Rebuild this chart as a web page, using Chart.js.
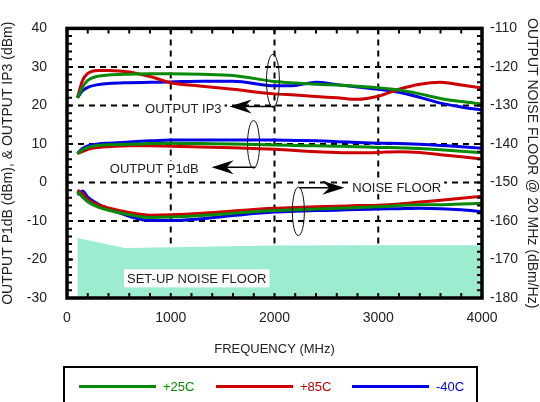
<!DOCTYPE html>
<html lang="en">
  <head>
    <meta charset="UTF-8" />
    <title>Output IP3, P1dB and noise floor vs frequency</title>
    <style type="text/css">
      body {
        margin: 0;
        background-color: #ffffff;
        font-family: "Liberation Sans", Arial, sans-serif;
      }

      .wrap {
        position: relative;
        width: 540px;
        height: 402px;
      }

      .legend {
        position: absolute;
        left: 63px;
        top: 366px;
        width: 415px;
        height: 50px;
        border: 2px solid #000;
        box-sizing: border-box;
      }

      .item {
        position: absolute;
        top: 11px;
        display: flex;
        align-items: center;
        font-size: 13px;
      }

      .swatch {
        width: 77px;
        height: 3px;
        margin-right: 7px;
      }
    </style>
  </head>
  <body>
    <div class="wrap">
      <canvas id="chart" width="540" height="402"></canvas>
      <div class="legend" id="legend"></div>
    </div>

    <script src="https://cdn.jsdelivr.net/npm/chart.js@4.4.1/dist/chart.umd.min.js"></script>

    <script type="text/javascript">
      // frequency (MHz) shared by all measured curves
      const freqMHz = [100, 150, 200, 300, 400, 600, 800, 1000, 1300, 1600, 2000, 2200, 2400, 2600, 2800, 3000, 3200, 3400, 3600, 3800, 4000];

      // output IP3 (dBm)
      const ip3_25 = [22, 24.8, 26.5, 27.6, 27.9, 28.1, 28.2, 28.2, 28.1, 27.8, 26.2, 25.8, 25.5, 25.3, 25.0, 24.6, 24.0, 23.0, 21.8, 21.0, 20.4];
      const ip3_85 = [22, 26.5, 28.3, 29.1, 29.1, 28.7, 27.5, 25.9, 25.0, 24.2, 23.0, 22.7, 22.3, 22.0, 21.6, 22.4, 24.2, 25.5, 26.0, 25.3, 24.5];
      const ip3_m40 = [22, 23.8, 24.7, 25.4, 25.7, 25.9, 26.0, 26.1, 26.3, 26.3, 25.1, 25.2, 26.0, 25.4, 24.8, 24.2, 23.4, 22.1, 20.6, 19.6, 18.8];

      // output P1dB (dBm)
      const p1db_25 = [7.5, 8.5, 9.1, 9.6, 9.8, 9.9, 10.1, 10.2, 10.1, 10.0, 9.7, 9.6, 9.5, 9.4, 9.3, 9.1, 9.0, 8.8, 8.5, 8.1, 7.7];
      const p1db_85 = [7.5, 8.0, 8.6, 9.1, 9.3, 9.5, 9.5, 9.4, 9.2, 9.0, 8.6, 8.3, 8.0, 7.8, 7.7, 7.8, 8.0, 7.8, 7.2, 6.7, 6.1];
      const p1db_m40 = [7.5, 8.8, 9.5, 10.0, 10.2, 10.5, 10.8, 11.0, 11.0, 11.0, 11.0, 10.9, 10.8, 10.6, 10.4, 10.2, 10.1, 9.9, 9.6, 9.3, 8.9];

      // output noise floor @ 20 MHz (dBm/Hz), right axis
      const nf_25 = [-152.4, -153.8, -155.0, -156.4, -157.2, -158.4, -159.1, -159.0, -158.6, -158.0, -157.3, -157.1, -156.9, -156.7, -156.5, -156.3, -156.0, -155.8, -155.8, -155.6, -155.4];
      const nf_85 = [-152.0, -153.0, -154.5, -155.8, -156.6, -157.8, -158.5, -158.4, -158.0, -157.4, -156.7, -156.5, -156.3, -156.2, -156.0, -155.9, -155.6, -155.1, -154.6, -154.1, -153.6];
      const nf_m40 = [-153.2, -152.2, -153.8, -155.6, -156.8, -158.8, -159.9, -159.9, -159.4, -158.6, -157.7, -157.5, -157.3, -157.2, -157.0, -156.9, -156.8, -156.7, -156.8, -157.1, -157.6];

      // set-up noise floor (left axis units)
      const setupFreq = [100, 560, 1000, 2000, 3000, 4000];
      const setupFloor = [-14.4, -17.0, -16.8, -16.4, -16.3, -16.3];

      const series = [
        { label: "+25C", color: "#078a07", ip3: ip3_25, p1db: p1db_25, nf: nf_25 },
        { label: "+85C", color: "#cc0000", ip3: ip3_85, p1db: p1db_85, nf: nf_85 },
        { label: "-40C", color: "#0000e6", ip3: ip3_m40, p1db: p1db_m40, nf: nf_m40 },
      ];

      const xTicks = [0, 1000, 2000, 3000, 4000];

      // callouts, in data units (x: MHz, y: left axis dBm)
      const ellipses = [
        { x: 1985, y: 26.4, rx: 62, ry: 6.9 },
        { x: 1798, y: 9.9, rx: 58, ry: 6.2 },
        { x: 2230, y: -7.5, rx: 58, ry: 6.3 },
      ];
      const arrows = [
        { from: [1990, 19.75], to: [1567, 19.75] },
        { from: [1817, 3.95], to: [1394, 3.95] },
        { from: [2240, -1.35], to: [2673, -1.35] },
      ];
      const notes = [
        { text: "OUTPUT IP3", x: 1490, y: 19.1, align: "right" },
        { text: "OUTPUT P1dB", x: 1269, y: 3.7, align: "right" },
        { text: "NOISE FLOOR", x: 2750, y: -1.2, align: "left" },
      ];

      const pts = (xs, ys) => xs.map((x, i) => ({ x: x, y: ys[i] }));

      const datasets = [];
      series.forEach(s => {
        [["ip3", "y"], ["p1db", "y"], ["nf", "y2"]].forEach(([key, axis]) => {
          datasets.push({
            label: s.label,
            data: pts(freqMHz, s[key]),
            yAxisID: axis,
            borderColor: s.color,
            borderWidth: 3,
            pointRadius: 0,
            cubicInterpolationMode: "monotone",
            fill: false,
            order: 0,
          });
        });
      });
      datasets.push({
        label: "SET-UP NOISE FLOOR",
        data: pts(setupFreq, setupFloor),
        yAxisID: "y",
        borderWidth: 0,
        borderColor: "rgba(0,0,0,0)",
        backgroundColor: "#9cedcf",
        pointRadius: 0,
        fill: "start",
        order: 5,
      });

      const drawArrowHead = (ctx, x, y, ang) => {
        ctx.save();
        ctx.translate(x, y);
        ctx.rotate(ang);
        ctx.beginPath();
        ctx.moveTo(0, 0);
        ctx.lineTo(-22, -7);
        ctx.lineTo(-15, 0);
        ctx.lineTo(-22, 7);
        ctx.closePath();
        ctx.fill();
        ctx.restore();
      };

      // dashed major grid, under the data
      const dashedGrid = {
        id: "dashedGrid",
        beforeDatasetsDraw(chart) {
          const { ctx, chartArea: a, scales } = chart;
          ctx.save();
          ctx.strokeStyle = "#000";
          ctx.lineWidth = 2;
          ctx.setLineDash([6, 5]);
          ctx.beginPath();
          scales.x.ticks.forEach(t => {
            const px = scales.x.getPixelForValue(t.value);
            ctx.moveTo(px, a.top);
            ctx.lineTo(px, a.bottom);
          });
          scales.y.ticks.forEach(t => {
            const py = scales.y.getPixelForValue(t.value);
            ctx.moveTo(a.left, py);
            ctx.lineTo(a.right, py);
          });
          ctx.stroke();
          ctx.restore();
        },
      };

      const extras = {
        id: "extras",
        afterDatasetsDraw(chart) {
          const { ctx, chartArea: a, scales } = chart;
          const xs = scales.x, ys = scales.y;
          ctx.save();

          // set-up noise floor label
          ctx.font = "13px 'Liberation Sans', Arial, sans-serif";
          ctx.textBaseline = "middle";
          ctx.textAlign = "center";
          const lx = xs.getPixelForValue(1250), ly = ys.getPixelForValue(-24.9);
          const lw = ctx.measureText("SET-UP NOISE FLOOR").width;
          ctx.fillStyle = "#fff";
          ctx.fillRect(lx - lw / 2 - 3, ly - 9, lw + 6, 18);
          ctx.fillStyle = "#222";
          ctx.fillText("SET-UP NOISE FLOOR", lx, ly + 1);

          // minor ticks, inward on all four sides
          ctx.strokeStyle = "#000";
          ctx.lineWidth = 2;
          ctx.beginPath();
          for (let f = 0; f <= 4000; f += 200) {
            const px = xs.getPixelForValue(f);
            ctx.moveTo(px, a.bottom);
            ctx.lineTo(px, a.bottom - 5);
            ctx.moveTo(px, a.top);
            ctx.lineTo(px, a.top + 5);
          }
          for (let v = -30; v <= 40; v += 2) {
            const py = ys.getPixelForValue(v);
            ctx.moveTo(a.left, py);
            ctx.lineTo(a.left + 5, py);
            ctx.moveTo(a.right, py);
            ctx.lineTo(a.right - 5, py);
          }
          ctx.stroke();

          // plot frame
          ctx.lineWidth = 3.5;
          ctx.strokeRect(a.left, a.top, a.right - a.left, a.bottom - a.top);

          // callout texts on white
          notes.forEach(n => {
            const tx = xs.getPixelForValue(n.x), ty = ys.getPixelForValue(n.y);
            const w = ctx.measureText(n.text).width;
            const left = n.align === "right" ? tx - w : tx;
            ctx.fillStyle = "#fff";
            ctx.fillRect(left - 3, ty - 7, w + 6, 14);
            ctx.fillStyle = "#222";
            ctx.textAlign = n.align;
            ctx.fillText(n.text, tx, ty + 1);
          });

          // ellipses
          ctx.lineWidth = 1;
          ctx.strokeStyle = "#111";
          ellipses.forEach(e => {
            const cx = xs.getPixelForValue(e.x), cy = ys.getPixelForValue(e.y);
            const rx = Math.abs(xs.getPixelForValue(e.x + e.rx) - cx);
            const ry = Math.abs(ys.getPixelForValue(e.y + e.ry) - cy);
            ctx.beginPath();
            ctx.ellipse(cx, cy, rx, ry, 0, 0, Math.PI * 2);
            ctx.stroke();
          });

          // arrows
          ctx.lineWidth = 1.5;
          ctx.fillStyle = "#000";
          ctx.strokeStyle = "#000";
          arrows.forEach(ar => {
            const x1 = xs.getPixelForValue(ar.from[0]), y1 = ys.getPixelForValue(ar.from[1]);
            const x2 = xs.getPixelForValue(ar.to[0]), y2 = ys.getPixelForValue(ar.to[1]);
            const ang = Math.atan2(y2 - y1, x2 - x1);
            ctx.beginPath();
            ctx.moveTo(x1, y1);
            ctx.lineTo(x2 - 12 * Math.cos(ang), y2 - 12 * Math.sin(ang));
            ctx.stroke();
            drawArrowHead(ctx, x2, y2, ang);
          });

          ctx.restore();
        },
      };

      Chart.defaults.font.family = "'Liberation Sans', Arial, sans-serif";
      Chart.defaults.color = "#222";

      new Chart("chart", {
        type: "line",
        data: { datasets: datasets },
        plugins: [dashedGrid, extras],
        options: {
          responsive: false,
          animation: false,
          layout: { padding: { top: 15, bottom: 41, left: 0, right: 0 } },
          plugins: {
            legend: { display: false },
            tooltip: { enabled: false },
          },
          scales: {
            x: {
              type: "linear",
              min: 0,
              max: 4000,
              afterBuildTicks: s => {
                s.ticks = xTicks.map(v => ({ value: v }));
              },
              afterFit: s => {
                s.height = 63;
              },
              ticks: {
                font: { size: 14 },
                padding: 12,
                maxRotation: 0,
                callback: v => String(v),
              },
              grid: { display: false, drawTicks: false },
              border: { display: false },
              title: {
                display: true,
                text: "FREQUENCY (MHz)",
                font: { size: 13 },
                padding: { top: 4, bottom: 4 },
              },
            },
            y: {
              position: "left",
              min: -30,
              max: 40,
              ticks: { stepSize: 10, font: { size: 14 }, padding: 20 },
              afterFit: s => {
                s.width = 67;
              },
              grid: { display: false, drawTicks: false },
              border: { display: false },
              title: {
                display: true,
                text: "OUTPUT P1dB (dBm), & OUTPUT IP3 (dBm)",
                font: { size: 14 },
                padding: { top: 0, bottom: 12 },
              },
            },
            y2: {
              position: "right",
              min: -180,
              max: -110,
              ticks: { stepSize: 10, font: { size: 14 }, padding: 8 },
              afterFit: s => {
                s.width = 58;
              },
              grid: { display: false, drawTicks: false },
              border: { display: false },
              title: {
                display: true,
                text: "OUTPUT NOISE FLOOR @ 20 MHz (dBm/Hz)",
                font: { size: 14 },
                padding: { top: 0, bottom: 0 },
              },
            },
          },
        },
      });

      // legend below the plot
      const legend = document.getElementById("legend");
      const starts = [14, 151, 287];
      series.forEach((s, i) => {
        const item = document.createElement("div");
        item.className = "item";
        item.style.left = starts[i] + "px";
        item.style.color = s.color;
        item.innerHTML = '<div class="swatch" style="background:' + s.color + '"></div>' + s.label;
        legend.appendChild(item);
      });
    </script>
  </body>
</html>
